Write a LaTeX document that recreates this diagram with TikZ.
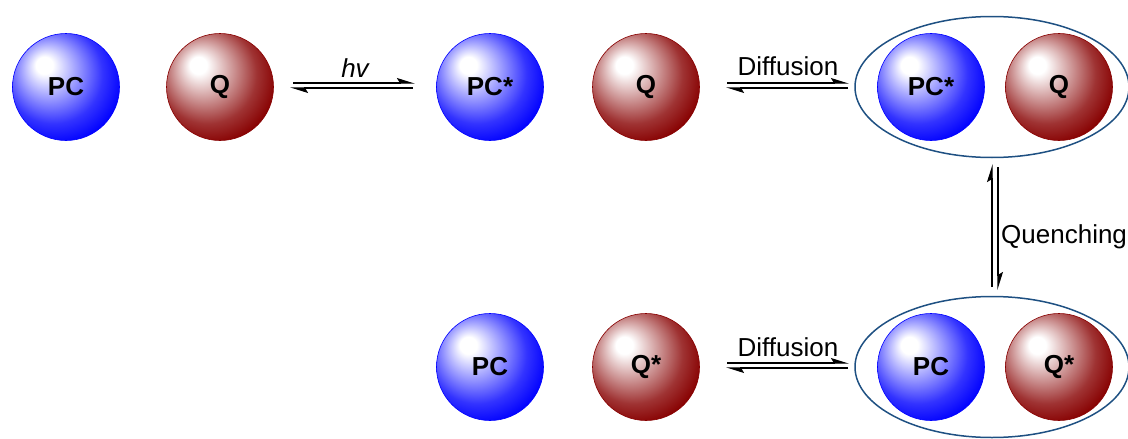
\documentclass[tikz,border=0pt]{standalone}
\usepackage{fontspec}
\setmainfont{Liberation Sans}
\usetikzlibrary{arrows.meta,shapes.geometric}
\definecolor{sphblue}{RGB}{0,0,255}
\definecolor{sphred}{RGB}{135,0,0}
\definecolor{ellcol}{RGB}{30,80,130}
\pgfdeclareradialshading{bluesph}{\pgfpoint{-11bp}{11bp}}{color(0bp)=(white); color(4bp)=(white); color(14bp)=(sphblue!42!white); color(23bp)=(sphblue!80!white); color(31bp)=(sphblue); color(50bp)=(sphblue)}
\pgfdeclareradialshading{redsph}{\pgfpoint{-11bp}{11bp}}{color(0bp)=(white); color(4bp)=(white); color(14bp)=(sphred!42!white); color(23bp)=(sphred!80!white); color(31bp)=(sphred); color(50bp)=(sphred)}
\begin{document}
\begin{tikzpicture}[x=1pt,y=-1pt,
  sph/.style={circle, minimum size=107pt, inner sep=0pt, line width=0.6pt, font=\fontsize{26}{31}\selectfont\bfseries},
  bsph/.style={sph, shading=bluesph, draw=sphblue},
  rsph/.style={sph, shading=redsph, draw=sphred},
  encl/.style={ellipse, draw=ellcol, line width=1.5pt, minimum width=274pt, minimum height=141pt, inner sep=0pt},
  harp/.style={line width=1.3pt, -{Stealth[harpoon, length=16pt, width=10pt, inset=3pt]}},
  lbl/.style={font=\fontsize{26}{31}\selectfont, inner sep=0pt}]
\useasboundingbox (0,0) rectangle (1128,439);
% enclosures
\node[encl] (E1) at (992,87) {};
\node[encl] (E2) at (992,367) {};
% spheres top row
\node[bsph] (PC1) at (66,87) {PC};
\node[rsph] (Q1) at (220,87) {Q};
\node[bsph] (PC2) at (490,87) {PC*};
\node[rsph] (Q2) at (646,87) {Q};
\node[bsph] (PC3) at (931,87) {PC*};
\node[rsph] (Q3) at (1059,87) {Q};
% spheres bottom row
\node[bsph] (PC4) at (490,367) {PC};
\node[rsph] (Q4) at (646,367) {Q*};
\node[bsph] (PC5) at (931,367) {PC};
\node[rsph] (Q5) at (1059,367) {Q*};
% arrow endpoints
\coordinate (h1a) at (293,83); \coordinate (h1b) at (415,83);
\coordinate (h2a) at (413,88); \coordinate (h2b) at (290,88);
\coordinate (d1a) at (727,83); \coordinate (d1b) at (849,83);
\coordinate (d2a) at (848,88); \coordinate (d2b) at (726,88);
\coordinate (q1a) at (992,287); \coordinate (q1b) at (992,164);
\coordinate (q2a) at (998,167); \coordinate (q2b) at (998,290);
\coordinate (e1a) at (727,363); \coordinate (e1b) at (849,363);
\coordinate (e2a) at (848,368); \coordinate (e2b) at (726,368);
% arrows
\draw[harp] (h1a) -- (h1b);
\draw[harp] (h2a) -- (h2b);
\draw[harp] (d1a) -- (d1b);
\draw[harp] (d2a) -- (d2b);
\draw[harp] (q1a) -- (q1b);
\draw[harp] (q2a) -- (q2b);
\draw[harp] (e1a) -- (e1b);
\draw[harp] (e2a) -- (e2b);
% labels
\node[lbl, anchor=base] (hv) at (355,77) {\itshape hv};
\node[lbl, anchor=base] (dif1) at (788,75) {Diffusion};
\node[lbl, anchor=base] (dif2) at (788,356) {Diffusion};
\node[lbl, anchor=base west] (quen) at (1001,243) {Quenching};
\end{tikzpicture}
\end{document}
